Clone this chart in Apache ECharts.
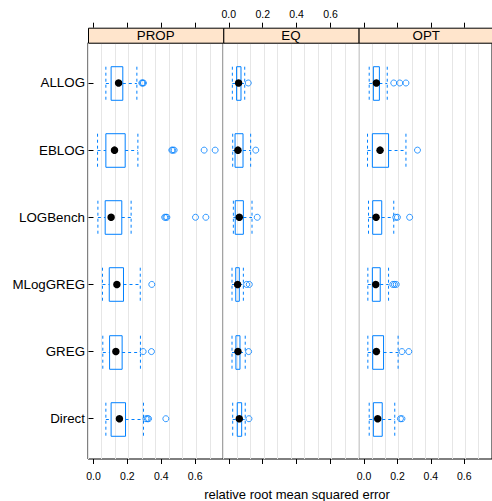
<!DOCTYPE html>
<html>
<head>
<meta charset="utf-8">
<script src="https://cdn.jsdelivr.net/npm/echarts@6/dist/echarts.min.js"></script>
<style>html,body{margin:0;padding:0;background:#fff}#c{width:492px;height:501px}</style>
</head>
<body>
<div id="c"></div>
<script>
// ---- data (top to bottom order of the y axis) ----
const categories = ['ALLOG', 'EBLOG', 'LOGBench', 'MLogGREG', 'GREG', 'Direct'];
const panels = ['PROP', 'EQ', 'OPT'];
const tickValues = [0, 0.2, 0.4, 0.6];
const xTitle = 'relative root mean squared error';

// [lower whisker, Q1, median, Q3, upper whisker]
const propStats = [
  [0.073, 0.104, 0.148, 0.173, 0.256],
  [0.024, 0.073, 0.124, 0.187, 0.262],
  [0.026, 0.069, 0.104, 0.167, 0.222],
  [0.053, 0.093, 0.138, 0.177, 0.276],
  [0.055, 0.095, 0.132, 0.169, 0.277],
  [0.073, 0.104, 0.153, 0.189, 0.295]
];
const propOutliers = [
  [0.285, 0.290, 0.295],
  [0.462, 0.468, 0.476, 0.653, 0.718],
  [0.420, 0.427, 0.433, 0.602, 0.663],
  [0.344],
  [0.293, 0.342],
  [0.310, 0.318, 0.325, 0.427]
];
const eqStats = [
  [0.021, 0.046, 0.058, 0.072, 0.094],
  [0.023, 0.037, 0.054, 0.084, 0.129],
  [0.027, 0.038, 0.062, 0.086, 0.137],
  [0.019, 0.041, 0.052, 0.062, 0.086],
  [0.019, 0.042, 0.054, 0.066, 0.097],
  [0.023, 0.050, 0.062, 0.076, 0.097]
];
const eqOutliers = [
  [0.115],
  [0.159],
  [0.168],
  [0.105, 0.121],
  [0.117],
  [0.119]
];
const optStats = [
  [0.031, 0.056, 0.074, 0.092, 0.139],
  [0.021, 0.050, 0.096, 0.147, 0.251],
  [0.027, 0.052, 0.072, 0.106, 0.178],
  [0.023, 0.050, 0.070, 0.097, 0.147],
  [0.023, 0.052, 0.074, 0.117, 0.204],
  [0.031, 0.056, 0.082, 0.109, 0.184]
];
const optOutliers = [
  [0.178, 0.214, 0.251],
  [0.320],
  [0.190, 0.200, 0.273],
  [0.172, 0.182, 0.193],
  [0.227, 0.268],
  [0.218, 0.227]
];

const allStats = [propStats, eqStats, optStats];
const allOutliers = [propOutliers, eqOutliers, optOutliers];

// ---- layout / style ----
const FONT = '"Liberation Sans", Arial, Helvetica, sans-serif';
const BLUE = '#0080ff';
const XMIN = -0.0324, XMAX = 0.766;
const PANEL_LEFT = [88, 223.3, 358.6];
const PANEL_W = 135.3;
const PANEL_TOP = 42.7, PANEL_H = 416.3;
const STRIP_H = 15;
const nCat = categories.length;
const yOf = i => nCat - i; // top category -> highest value

const chart = echarts.init(document.getElementById('c'), null, {renderer: 'svg'});

const grid = [], xAxis = [], yAxis = [], series = [];

function renderBox(params, api) {
  const y = api.value(0);
  const lo = api.coord([api.value(1), y]);
  const q1 = api.coord([api.value(2), y]);
  const q3 = api.coord([api.value(4), y]);
  const hi = api.coord([api.value(5), y]);
  const h = api.size([0, 0.5])[1];
  const dash = {stroke: BLUE, lineWidth: 1, lineDash: [3, 3], fill: null};
  const cy = Math.round(lo[1]) + 0.5;
  return {
    type: 'group',
    children: [
      {type: 'line', shape: {x1: lo[0], y1: cy, x2: q1[0], y2: cy}, style: dash},
      {type: 'line', shape: {x1: q3[0], y1: cy, x2: hi[0], y2: cy}, style: dash},
      {type: 'line', shape: {x1: lo[0], y1: cy - h / 2, x2: lo[0], y2: cy + h / 2}, style: dash},
      {type: 'line', shape: {x1: hi[0], y1: cy - h / 2, x2: hi[0], y2: cy + h / 2}, style: dash},
      {type: 'rect', shape: {x: q1[0], y: cy - h / 2, width: q3[0] - q1[0], height: h},
        style: {stroke: BLUE, lineWidth: 1, fill: 'rgba(0,0,0,0)'}}
    ]
  };
}

panels.forEach((p, pi) => {
  grid.push({
    left: PANEL_LEFT[pi], top: PANEL_TOP, width: PANEL_W, height: PANEL_H,
    show: true, borderColor: '#000', borderWidth: 1, backgroundColor: 'rgba(0,0,0,0)'
  });
  const ax0 = xAxis.length;
  // bottom axis
  xAxis.push({
    gridIndex: pi, type: 'value', position: 'bottom', min: XMIN, max: XMAX,
    axisLine: {show: false}, splitLine: {show: false},
    axisTick: {show: true, customValues: tickValues, length: 5, lineStyle: {color: '#000'}},
    axisLabel: {show: pi !== 1, customValues: tickValues, formatter: v => v.toFixed(1),
      fontSize: 10.5, color: '#000', fontFamily: FONT, margin: 11}
  });
  // top axis (above strip)
  xAxis.push({
    gridIndex: pi, type: 'value', position: 'top', offset: STRIP_H, min: XMIN, max: XMAX,
    axisLine: {show: false}, splitLine: {show: false},
    axisTick: {show: true, customValues: tickValues, length: 5, lineStyle: {color: '#000'}},
    axisLabel: {show: pi === 1, customValues: tickValues, formatter: v => v.toFixed(1),
      fontSize: 10.5, color: '#000', fontFamily: FONT, margin: 8}
  });
  // reference grid lines: 10 equal divisions of the panel
  xAxis.push({
    gridIndex: pi, type: 'value', min: 0, max: 10, interval: 1, position: 'bottom',
    axisLine: {show: false}, axisTick: {show: false}, axisLabel: {show: false},
    splitLine: {show: true, lineStyle: {color: '#e6e6e6', width: 1}}
  });
  yAxis.push({
    gridIndex: pi, type: 'value', min: 0.4, max: 6.6,
    axisLine: {show: false}, splitLine: {show: false},
    axisTick: {show: pi === 0, customValues: [1, 2, 3, 4, 5, 6], length: 5, lineStyle: {color: '#000'}},
    axisLabel: {show: pi === 0, customValues: [1, 2, 3, 4, 5, 6],
      formatter: v => categories[nCat - Math.round(v)],
      fontSize: 13.33, color: '#000', fontFamily: FONT, margin: 3}
  });

  const stats = allStats[pi];
  const outs = allOutliers[pi];
  series.push({
    type: 'custom', xAxisIndex: ax0, yAxisIndex: pi,
    renderItem: renderBox, silent: true, z: 3,
    encode: {x: [1, 2, 3, 4, 5], y: 0},
    data: stats.map((s, i) => [yOf(i)].concat(s))
  });
  const outData = [];
  outs.forEach((arr, i) => arr.forEach(v => outData.push([v, yOf(i)])));
  series.push({
    type: 'scatter', xAxisIndex: ax0, yAxisIndex: pi, silent: true, z: 4,
    symbol: 'circle', symbolSize: 6,
    itemStyle: {color: 'rgba(0,0,0,0)', borderColor: BLUE, borderWidth: 1},
    data: outData
  });
  series.push({
    type: 'scatter', xAxisIndex: ax0, yAxisIndex: pi, silent: true, z: 5,
    symbol: 'circle', symbolSize: 7.5,
    itemStyle: {color: '#000', opacity: 1},
    data: stats.map((s, i) => [s[2], yOf(i)])
  });
});

const graphic = [];
panels.forEach((p, pi) => {
  graphic.push({
    type: 'rect', left: PANEL_LEFT[pi], top: PANEL_TOP - STRIP_H, z: 10,
    shape: {width: PANEL_W, height: STRIP_H},
    style: {fill: '#ffe5cc', stroke: '#000', lineWidth: 1}
  });
  graphic.push({
    type: 'text', x: PANEL_LEFT[pi] + PANEL_W / 2, y: PANEL_TOP - STRIP_H / 2 + 0.5, z: 11,
    style: {text: p, fill: '#000', font: '13.33px ' + FONT, textAlign: 'center', textVerticalAlign: 'middle'}
  });
});
graphic.push({
  type: 'text', x: 297, y: 494, z: 11,
  style: {text: xTitle, fill: '#000', font: '13px ' + FONT, textAlign: 'center', textVerticalAlign: 'middle'}
});

chart.setOption({
  animation: false,
  backgroundColor: '#fff',
  grid, xAxis, yAxis, series, graphic
});
</script>
</body>
</html>
